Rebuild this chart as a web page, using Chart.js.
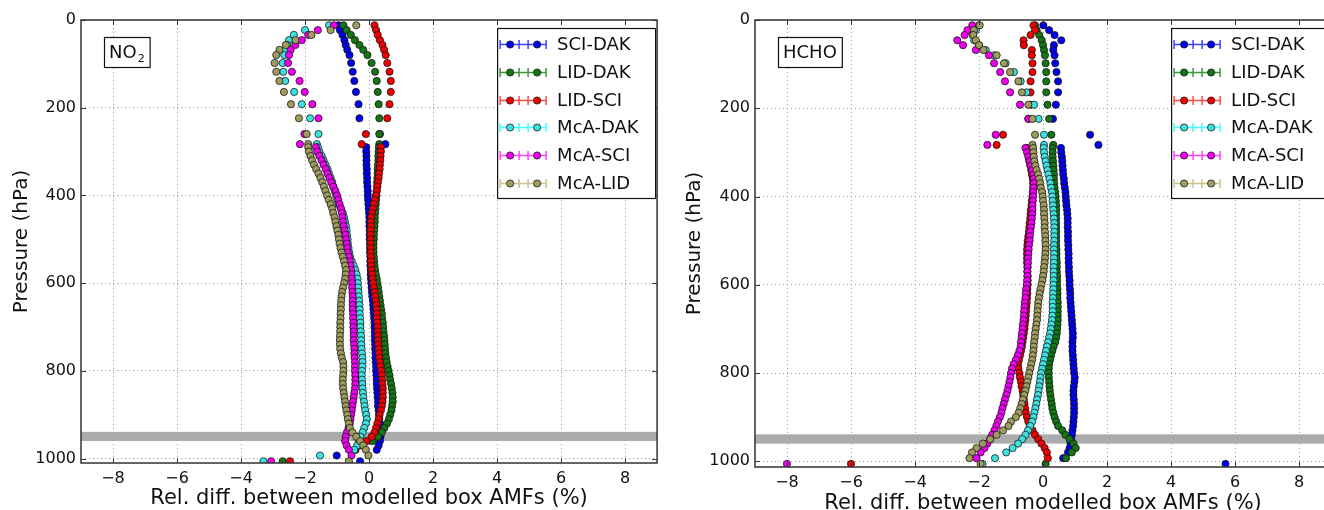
<!DOCTYPE html>
<html>
<head>
<meta charset="utf-8">
<script src="https://cdn.jsdelivr.net/npm/chart.js@4.4.1/dist/chart.umd.min.js"></script>
<style>
  html, body { margin: 0; padding: 0; background: #fff; overflow: hidden; width: 1324px; height: 510px; }
  canvas { position: absolute; top: 0; }
  #panel-no2 { left: 0; }
  #panel-hcho { left: 662px; }
</style>
</head>
<body>
<canvas id="panel-no2" width="662" height="513"></canvas>
<canvas id="panel-hcho" width="674" height="518"></canvas>
<script>
// niveles de presion (hPa) comunes a todas las series
const presion = [12, 23, 34, 46, 57, 68, 80, 98, 118, 139, 164, 192, 224, 260, 283,
  290, 300, 310, 320, 330, 340, 350, 360, 370, 380,
  390, 400, 410, 420, 430, 440, 450, 460, 470, 480,
  490, 500, 510, 520, 530, 540, 550, 560, 570, 580,
  590, 600, 610, 620, 630, 640, 650, 660, 670, 680,
  690, 700, 710, 720, 730, 740, 750, 760, 770, 780,
  790, 800, 810, 820, 830, 840, 850, 860, 870, 880,
  890, 900, 910, 920, 930, 940, 950, 960, 970, 980,
  993, 1006];

const nombres = ['SCI-DAK', 'LID-DAK', 'LID-SCI', 'McA-DAK', 'McA-SCI', 'McA-LID'];

const ticksX = [-8, -6, -4, -2, 0, 2, 4, 6, 8];
const ticksY = [0, 200, 400, 600, 800, 1000];
const franjaSuelo = [939, 960];

// NO2: diferencias relativas (%) por nivel
const no2_sciDak = [-0.96, -0.91, -0.83, -0.77, -0.73, -0.68, -0.61, -0.56, -0.51, -0.46, -0.41, -0.33, -0.30, 0.34, 0.51,
  -0.09, -0.09, -0.08, -0.08, -0.08, -0.07, -0.07, -0.06, -0.06, -0.05,
  -0.04, -0.04, -0.03, -0.02, -0.01, 0.0, 0.01, 0.01, 0.01, 0.02,
  0.02, 0.02, 0.03, 0.03, 0.03, 0.04, 0.04, 0.04, 0.05, 0.05,
  0.06, 0.07, 0.08, 0.09, 0.1, 0.12, 0.13, 0.14, 0.15, 0.16,
  0.17, 0.17, 0.18, 0.18, 0.18, 0.19, 0.19, 0.2, 0.2, 0.21,
  0.22, 0.22, 0.23, 0.24, 0.24, 0.25, 0.26, 0.27, 0.28, 0.28,
  0.3, 0.31, 0.32, 0.34, 0.35, 0.36, 0.36, 0.34, 0.3, 0.24,
  -1.01, -0.28];
const no2_lidDak = [-0.80, -0.70, -0.57, -0.44, -0.30, -0.18, -0.05, 0.08, 0.19, 0.24, 0.27, 0.30, 0.32, 0.32, 0.32,
  0.31, 0.3, 0.29, 0.29, 0.28, 0.27, 0.27, 0.26, 0.25, 0.25,
  0.24, 0.23, 0.22, 0.21, 0.2, 0.19, 0.18, 0.18, 0.17, 0.16,
  0.15, 0.15, 0.14, 0.14, 0.14, 0.15, 0.16, 0.17, 0.19, 0.21,
  0.24, 0.26, 0.28, 0.3, 0.32, 0.34, 0.36, 0.38, 0.4, 0.41,
  0.43, 0.44, 0.45, 0.47, 0.48, 0.49, 0.5, 0.51, 0.53, 0.55,
  0.58, 0.61, 0.64, 0.66, 0.69, 0.71, 0.73, 0.74, 0.74, 0.72,
  0.7, 0.66, 0.62, 0.56, 0.48, 0.4, 0.28, 0.1, null, null,
  null, -2.7];
const no2_lidSci = [0.17, 0.22, 0.27, 0.34, 0.42, 0.47, 0.52, 0.57, 0.64, 0.68, 0.68, 0.64, 0.57, -0.10, -0.23,
  0.37, 0.37, 0.36, 0.35, 0.34, 0.33, 0.31, 0.3, 0.28, 0.26,
  0.24, 0.21, 0.18, 0.15, 0.12, 0.09, 0.07, 0.06, 0.06, 0.05,
  0.05, 0.05, 0.05, 0.05, 0.05, 0.06, 0.06, 0.07, 0.08, 0.1,
  0.11, 0.13, 0.15, 0.17, 0.19, 0.21, 0.23, 0.24, 0.25, 0.25,
  0.26, 0.27, 0.27, 0.28, 0.28, 0.29, 0.3, 0.31, 0.32, 0.34,
  0.36, 0.38, 0.4, 0.41, 0.42, 0.43, 0.43, 0.43, 0.42, 0.4,
  0.37, 0.33, 0.3, 0.26, 0.22, 0.17, 0.08, -0.08, -0.27, -0.42,
  null, -2.47];
const no2_mcaDak = [-1.25, -2.0, -2.35, -2.5, -2.55, -2.6, -2.65, -2.7, -2.68, -2.62, -2.34, -2.10, -1.84, -1.58, -1.63,
  -1.6, -1.55, -1.48, -1.42, -1.36, -1.3, -1.25, -1.2, -1.15, -1.11,
  -1.07, -1.03, -0.99, -0.95, -0.88, -0.82, -0.78, -0.75, -0.72, -0.7,
  -0.69, -0.67, -0.66, -0.64, -0.62, -0.59, -0.54, -0.48, -0.43, -0.39,
  -0.36, -0.35, -0.34, -0.33, -0.32, -0.31, -0.3, -0.29, -0.29, -0.28,
  -0.27, -0.27, -0.26, -0.25, -0.25, -0.24, -0.23, -0.22, -0.21, -0.2,
  -0.21, -0.22, -0.23, -0.22, -0.21, -0.2, -0.19, -0.18, -0.16, -0.14,
  -0.12, -0.09, -0.07, -0.1, -0.15, -0.2, -0.27, -0.32, -0.37, -0.46,
  -1.53, -3.3];
const no2_mcaSci = [-1.1, -1.6, -1.9, -2.1, -2.3, -2.45, -2.5, -2.53, -2.41, -2.17, -2.01, -1.77, -1.58, -2.02, -2.16,
  -1.66, -1.62, -1.55, -1.48, -1.42, -1.35, -1.3, -1.24, -1.18, -1.12,
  -1.05, -1.0, -0.96, -0.92, -0.88, -0.85, -0.83, -0.81, -0.79, -0.77,
  -0.74, -0.72, -0.7, -0.68, -0.66, -0.63, -0.6, -0.58, -0.56, -0.55,
  -0.54, -0.53, -0.53, -0.52, -0.51, -0.51, -0.51, -0.51, -0.5, -0.5,
  -0.49, -0.49, -0.48, -0.48, -0.48, -0.47, -0.46, -0.46, -0.45, -0.44,
  -0.44, -0.44, -0.43, -0.43, -0.43, -0.44, -0.46, -0.48, -0.5, -0.52,
  -0.54, -0.56, -0.58, -0.6, -0.64, -0.69, -0.73, -0.75, -0.7, -0.63,
  -0.55, -3.06];
const no2_mcaLid = [-0.4, -1.2, -1.8, -2.3, -2.6, -2.8, -2.9, -2.95, -2.9, -2.8, -2.66, -2.44, -2.19, -1.95, -1.9,
  -1.9, -1.88, -1.83, -1.78, -1.72, -1.65, -1.58, -1.52, -1.46, -1.41,
  -1.36, -1.31, -1.26, -1.2, -1.15, -1.12, -1.08, -1.05, -1.02, -0.99,
  -0.96, -0.94, -0.92, -0.89, -0.86, -0.82, -0.78, -0.75, -0.72, -0.73,
  -0.75, -0.78, -0.81, -0.84, -0.86, -0.87, -0.88, -0.88, -0.89, -0.89,
  -0.9, -0.9, -0.9, -0.91, -0.91, -0.91, -0.9, -0.88, -0.85, -0.81,
  -0.8, -0.8, -0.81, -0.82, -0.82, -0.81, -0.79, -0.77, -0.75, -0.73,
  -0.71, -0.68, -0.66, -0.63, -0.6, -0.52, -0.4, -0.28, -0.18, -0.1,
  -0.02, -0.63];

// HCHO
const hcho_sciDak = [0.01, 0.19, 0.36, 0.57, 0.34, 0.32, 0.36, 0.38, 0.42, 0.47, 0.47, 0.40, 0.31, 1.47, 1.73,
  0.56, 0.57, 0.59, 0.6, 0.61, 0.62, 0.63, 0.65, 0.66, 0.68,
  0.7, 0.71, 0.72, 0.73, 0.75, 0.76, 0.77, 0.77, 0.77, 0.78,
  0.78, 0.78, 0.79, 0.79, 0.8, 0.8, 0.8, 0.81, 0.81, 0.82,
  0.83, 0.83, 0.84, 0.85, 0.85, 0.86, 0.87, 0.88, 0.89, 0.9,
  0.91, 0.92, 0.93, 0.93, 0.92, 0.92, 0.92, 0.93, 0.94, 0.95,
  0.96, 0.97, 0.99, 0.98, 0.96, 0.95, 0.95, 0.96, 0.97, 0.97,
  0.97, 0.96, 0.95, 0.94, 0.92, 0.9, 0.88, 0.86, 0.83, 0.78,
  0.63, 5.7];
const hcho_lidDak = [-0.25, -0.2, -0.12, -0.04, 0.0, 0.03, 0.06, 0.08, 0.1, 0.1, 0.1, 0.14, 0.19, 0.26, 0.32,
  0.3, 0.3, 0.3, 0.31, 0.32, 0.33, 0.34, 0.34, 0.35, 0.36,
  0.38, 0.39, 0.4, 0.41, 0.41, 0.41, 0.41, 0.41, 0.41, 0.41,
  0.41, 0.41, 0.41, 0.42, 0.42, 0.42, 0.43, 0.43, 0.43, 0.44,
  0.44, 0.44, 0.45, 0.45, 0.45, 0.46, 0.46, 0.46, 0.46, 0.46,
  0.45, 0.44, 0.43, 0.41, 0.38, 0.33, 0.29, 0.25, 0.22, 0.19,
  0.18, 0.18, 0.18, 0.19, 0.2, 0.21, 0.23, 0.25, 0.27, 0.29,
  0.32, 0.36, 0.41, 0.47, 0.6, 0.7, 0.83, 0.95, 1.02, 0.9,
  0.72, 0.08];
const hcho_lidSci = [-0.3, -0.25, -0.39, -0.61, -0.6, -0.35, -0.35, -0.33, -0.33, -0.39, -0.39, -0.39, -0.46, -1.25, -1.45,
  -0.5, -0.48, -0.45, -0.43, -0.4, -0.37, -0.35, -0.32, -0.31, -0.31,
  -0.32, -0.33, -0.35, -0.36, -0.38, -0.39, -0.4, -0.42, -0.43, -0.44,
  -0.46, -0.48, -0.49, -0.5, -0.5, -0.5, -0.5, -0.49, -0.49, -0.48,
  -0.48, -0.48, -0.49, -0.49, -0.5, -0.51, -0.52, -0.53, -0.54, -0.55,
  -0.57, -0.58, -0.6, -0.62, -0.64, -0.66, -0.69, -0.72, -0.75, -0.78,
  -0.77, -0.74, -0.72, -0.69, -0.67, -0.64, -0.62, -0.6, -0.58, -0.56,
  -0.54, -0.5, -0.46, -0.41, -0.33, -0.25, -0.15, -0.05, 0.05, 0.12,
  0.15, -6.0];
const hcho_mcaDak = [-2.0, -2.1, -2.2, -2.15, -2.0, -1.79, -1.53, -1.17, -0.91, -0.70, -0.52, -0.28, -0.14, 0.03, 0.03,
  0.02, 0.03, 0.05, 0.08, 0.11, 0.14, 0.17, 0.2, 0.23, 0.25,
  0.28, 0.29, 0.3, 0.31, 0.32, 0.33, 0.34, 0.35, 0.35, 0.35,
  0.35, 0.35, 0.34, 0.34, 0.34, 0.34, 0.34, 0.33, 0.33, 0.33,
  0.33, 0.32, 0.32, 0.31, 0.31, 0.3, 0.3, 0.3, 0.29, 0.28,
  0.26, 0.24, 0.22, 0.19, 0.16, 0.12, 0.09, 0.06, 0.03, 0.0,
  -0.03, -0.06, -0.08, -0.1, -0.12, -0.14, -0.16, -0.19, -0.21, -0.24,
  -0.27, -0.3, -0.34, -0.4, -0.47, -0.55, -0.65, -0.78, -0.95, -1.15,
  -1.5, -1.89];
const hcho_mcaSci = [-2.21, -2.36, -2.45, -2.68, -2.5, -2.1, -1.69, -1.53, -1.34, -1.19, -1.03, -0.72, -0.46, -1.48, -1.74,
  -0.55, -0.5, -0.46, -0.42, -0.38, -0.34, -0.3, -0.29, -0.29, -0.3,
  -0.31, -0.31, -0.32, -0.33, -0.33, -0.34, -0.35, -0.36, -0.38, -0.4,
  -0.41, -0.42, -0.44, -0.45, -0.46, -0.47, -0.47, -0.48, -0.49, -0.49,
  -0.5, -0.51, -0.53, -0.54, -0.55, -0.57, -0.58, -0.59, -0.6, -0.61,
  -0.63, -0.64, -0.66, -0.67, -0.69, -0.7, -0.74, -0.79, -0.85, -0.92,
  -0.97, -1.0, -1.02, -1.05, -1.08, -1.11, -1.15, -1.19, -1.23, -1.27,
  -1.3, -1.35, -1.41, -1.46, -1.52, -1.59, -1.66, -1.74, -1.83, -1.95,
  -2.08, -8.0];
const hcho_mcaLid = [-1.98, -2.16, -2.18, -2.1, -2.0, -1.86, -1.45, -1.22, -1.03, -0.77, -0.66, -0.46, -0.33, -0.25, -0.33,
  -0.31, -0.3, -0.29, -0.27, -0.24, -0.2, -0.15, -0.12, -0.09, -0.07,
  -0.03, -0.01, 0.0, 0.02, 0.03, 0.03, 0.04, 0.05, 0.05, 0.06,
  0.07, 0.07, 0.08, 0.08, 0.07, 0.06, 0.05, 0.03, 0.02, 0.0,
  -0.02, -0.05, -0.08, -0.11, -0.13, -0.15, -0.16, -0.17, -0.18, -0.19,
  -0.21, -0.23, -0.25, -0.26, -0.28, -0.29, -0.3, -0.32, -0.34, -0.37,
  -0.4, -0.43, -0.46, -0.49, -0.52, -0.55, -0.59, -0.63, -0.67, -0.71,
  -0.76, -0.85, -1.0, -1.08, -1.25, -1.45, -1.65, -1.88, -2.08, -2.22,
  -2.3, -1.95];

// relleno del marcador y color de la barra de error
const colorMarca = ['#0000f0', '#147514', '#f00000', '#3fe0e0', '#f000f0', '#a09b5e'];
const colorLinea = ['#4040ff', '#3c963c', '#ff4a4a', '#40ffff', '#ff40ff', '#c9c48f'];

const FUENTE = 'DejaVu Sans, Verdana, sans-serif';

function serie(valores) {
  return presion.map((p, i) => ({ x: valores[i], y: p })).filter(d => d.x !== null);
}

function menos(v) {
  return v < 0 ? '\u2212' + Math.abs(v) : String(v);
}

// franja gris, marco, marcas hacia dentro, etiqueta de especie y leyenda
const decorado = {
  id: 'decorado',
  beforeDatasetsDraw(chart) {
    const { ctx, chartArea: a, scales: { y } } = chart;
    const y0 = y.getPixelForValue(franjaSuelo[0]);
    const y1 = y.getPixelForValue(franjaSuelo[1]);
    ctx.save();
    ctx.fillStyle = '#ababab';
    ctx.fillRect(a.left, y0, a.right - a.left, y1 - y0);
    ctx.restore();
  },
  afterDraw(chart, args, opts) {
    const { ctx, chartArea: a, scales: { x, y } } = chart;
    ctx.save();
    ctx.strokeStyle = '#333';
    ctx.lineWidth = 1;
    ticksX.forEach(v => {
      const px = Math.round(x.getPixelForValue(v)) + 0.5;
      ctx.beginPath();
      ctx.moveTo(px, a.bottom); ctx.lineTo(px, a.bottom - 5);
      ctx.moveTo(px, a.top); ctx.lineTo(px, a.top + 5);
      ctx.stroke();
    });
    ticksY.forEach(v => {
      const py = Math.round(y.getPixelForValue(v)) + 0.5;
      ctx.beginPath();
      ctx.moveTo(a.left, py); ctx.lineTo(a.left + 5, py);
      ctx.moveTo(a.right, py); ctx.lineTo(a.right - 5, py);
      ctx.stroke();
    });
    ctx.lineWidth = 1.5;
    ctx.strokeRect(a.left, a.top, a.right - a.left, a.bottom - a.top);

    // caja con el nombre de la especie
    ctx.font = '18px ' + FUENTE;
    const anchoBase = ctx.measureText(opts.especie[0]).width;
    ctx.font = '11px ' + FUENTE;
    const anchoSub = opts.especie[1] ? ctx.measureText(opts.especie[1]).width + 1 : 0;
    const bx = a.left + 23, by = a.top + 17, bh = 30;
    const bw = anchoBase + anchoSub + 10;
    ctx.fillStyle = '#fff';
    ctx.fillRect(bx, by, bw, bh);
    ctx.lineWidth = 1.2;
    ctx.strokeStyle = '#111';
    ctx.strokeRect(bx + 0.5, by + 0.5, bw, bh);
    ctx.fillStyle = '#111';
    ctx.textBaseline = 'middle';
    ctx.font = '18px ' + FUENTE;
    ctx.fillText(opts.especie[0], bx + 5, by + bh / 2 + 1);
    if (opts.especie[1]) {
      ctx.font = '11px ' + FUENTE;
      ctx.fillText(opts.especie[1], bx + 5 + anchoBase + 1, by + bh / 2 + 7);
    }

    // leyenda con barras de error
    const lw = 158, lh = 170;
    const lx = a.right - 2 - lw, ly = a.top + 8;
    ctx.fillStyle = '#fff';
    ctx.fillRect(lx, ly, lw, lh);
    ctx.lineWidth = 1.2;
    ctx.strokeStyle = '#111';
    ctx.strokeRect(lx + 0.5, ly + 0.5, lw, lh);
    nombres.forEach((nombre, i) => {
      const cy = Math.round(ly + 16 + i * 27.8) + 0.5;
      const x0 = lx + 3, x1 = lx + 49;
      ctx.strokeStyle = colorLinea[i];
      ctx.lineWidth = 1.5;
      ctx.beginPath();
      ctx.moveTo(x0, cy); ctx.lineTo(x1, cy);
      [x0, lx + 22, lx + 31, x1].forEach(t => {
        ctx.moveTo(t, cy - 4.5); ctx.lineTo(t, cy + 4.5);
      });
      ctx.stroke();
      [lx + 13, lx + 40].forEach(m => {
        ctx.beginPath();
        ctx.arc(m, cy, 3.6, 0, Math.PI * 2);
        ctx.fillStyle = colorMarca[i];
        ctx.fill();
        ctx.lineWidth = 0.9;
        ctx.strokeStyle = 'rgba(20,20,20,0.85)';
        ctx.stroke();
      });
      ctx.fillStyle = '#111';
      ctx.font = '18px ' + FUENTE;
      ctx.fillText(nombre, lx + 60, cy + 1);
    });
    ctx.restore();
  }
};

function crearPanel(idCanvas, especie, valores, yMax, anchoEjeY, altoEjeX, padTituloY) {
  const datasets = valores.map((v, i) => ({
    label: nombres[i],
    data: serie(v),
    order: nombres.length - i,
    backgroundColor: colorMarca[i],
    borderColor: 'rgba(20,20,20,0.85)',
    pointRadius: 3.6,
    pointBorderWidth: 0.9,
    showLine: false
  }));

  return new Chart(document.getElementById(idCanvas), {
    type: 'scatter',
    data: { datasets },
    options: {
      responsive: false,
      devicePixelRatio: 1,
      animation: false,
      layout: { padding: { top: 20, right: 4, left: 0, bottom: 0 } },
      plugins: {
        legend: { display: false },
        tooltip: { enabled: false },
        decorado: { especie }
      },
      scales: {
        x: {
          type: 'linear',
          min: -9,
          max: 9,
          afterBuildTicks: s => { s.ticks = ticksX.map(v => ({ value: v })); },
          afterFit: s => { s.height = altoEjeX; },
          grid: { color: '#9a9a9a', lineWidth: 1, drawTicks: false },
          border: { display: false, dash: [1, 3] },
          ticks: { padding: 6, color: '#111', font: { family: FUENTE, size: 16 }, callback: v => menos(v) },
          title: {
            display: true,
            text: 'Rel. diff. between modelled box AMFs (%)',
            color: '#111',
            font: { family: FUENTE, size: 21 },
            padding: { top: 0, bottom: 2 }
          }
        },
        y: {
          type: 'linear',
          reverse: true,
          min: 0,
          max: yMax,
          afterBuildTicks: s => { s.ticks = ticksY.map(v => ({ value: v })); },
          afterFit: s => { s.width = anchoEjeY; },
          grid: { color: '#9a9a9a', lineWidth: 1, drawTicks: false },
          border: { display: false, dash: [1, 3] },
          ticks: { padding: 5, color: '#111', font: { family: FUENTE, size: 16 }, callback: v => String(v) },
          title: {
            display: true,
            text: 'Pressure (hPa)',
            color: '#111',
            font: { family: FUENTE, size: 20 },
            padding: { top: padTituloY, bottom: 0 }
          }
        }
      }
    },
    plugins: [decorado]
  });
}

crearPanel('panel-no2', ['NO', '2'],
  [no2_sciDak, no2_lidDak, no2_lidSci, no2_mcaDak, no2_mcaSci, no2_mcaLid], 1010, 81, 50, 10);
crearPanel('panel-hcho', ['HCHO', ''],
  [hcho_sciDak, hcho_lidDak, hcho_lidSci, hcho_mcaDak, hcho_mcaSci, hcho_mcaLid], 1013, 93, 51, 21);
</script>
</body>
</html>
